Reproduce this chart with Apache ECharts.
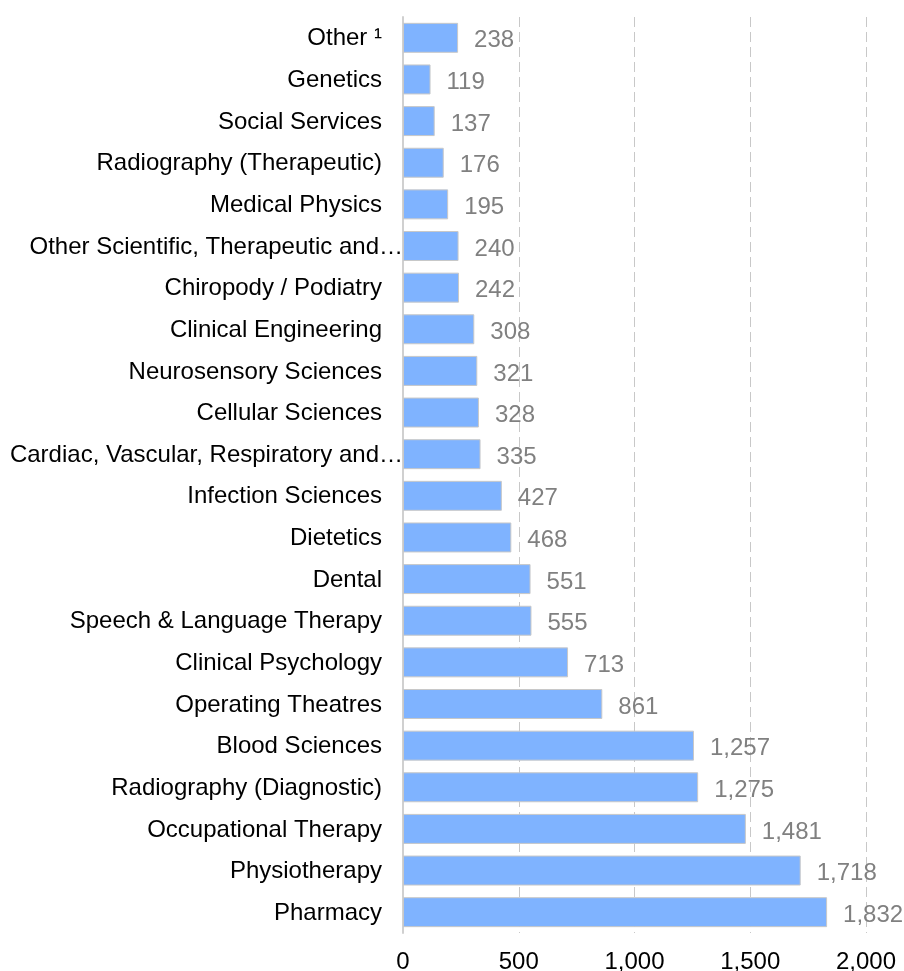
<!DOCTYPE html>
<html>
<head>
<meta charset="utf-8">
<script src="https://cdn.jsdelivr.net/npm/echarts@6/dist/echarts.min.js"></script>
<style>
html,body{margin:0;padding:0;background:#fff;}
#chart{width:904px;height:971px;}
</style>
</head>
<body>
<div id="chart"></div>
<script>
const categories = [
  "Other ¹",
  "Genetics",
  "Social Services",
  "Radiography (Therapeutic)",
  "Medical Physics",
  "Other Scientific, Therapeutic and…",
  "Chiropody / Podiatry",
  "Clinical Engineering",
  "Neurosensory Sciences",
  "Cellular Sciences",
  "Cardiac, Vascular, Respiratory and…",
  "Infection Sciences",
  "Dietetics",
  "Dental",
  "Speech & Language Therapy",
  "Clinical Psychology",
  "Operating Theatres",
  "Blood Sciences",
  "Radiography (Diagnostic)",
  "Occupational Therapy",
  "Physiotherapy",
  "Pharmacy"
];
const values = [238, 119, 137, 176, 195, 240, 242, 308, 321, 328, 335, 427, 468, 551, 555, 713, 861, 1257, 1275, 1481, 1718, 1832];
const xTicks = [0, 500, 1000, 1500, 2000];

const FONT = "'Liberation Sans', Arial, sans-serif";
const fmt = v => Number(v).toLocaleString('en-US');

const chart = echarts.init(document.getElementById('chart'), null, {renderer: 'canvas'});
chart.setOption({
  animation: false,
  backgroundColor: '#ffffff',
  grid: {left: 403, right: 38, top: 17, bottom: 38, containLabel: false, outerBoundsMode: 'none'},
  xAxis: {
    type: 'value',
    min: xTicks[0],
    max: xTicks[xTicks.length - 1],
    interval: 500,
    axisLine: {show: false},
    axisTick: {show: false},
    splitLine: {show: true, lineStyle: {color: '#c8c8c8', width: 1, type: [10, 5]}},
    axisLabel: {
      color: '#000000', fontSize: 24, fontFamily: FONT, margin: 17,
      formatter: v => fmt(v)
    }
  },
  yAxis: {
    type: 'category',
    data: categories,
    inverse: true,
    axisLine: {show: true, lineStyle: {color: '#d0d0d0', width: 2}},
    axisTick: {show: false},
    splitLine: {show: false},
    axisLabel: {
      margin: 0,
      interval: 0,
      color: '#000000', fontSize: 24, fontFamily: FONT,
      formatter: v => v.endsWith('…') ? '{t|' + v + '}' : '{n|' + v + '}',
      rich: {
        n: {color: '#000000', fontSize: 24, fontFamily: FONT, padding: [2, 21, 0, 0]},
        t: {color: '#000000', fontSize: 24, fontFamily: FONT, padding: [2, 0, 0, 0]}
      }
    }
  },
  series: [{
    type: 'bar',
    data: values,
    barWidth: '72%',
    itemStyle: {color: '#7fb3ff', borderColor: '#c8c8c8', borderWidth: 1},
    label: {
      show: true, position: 'right', distance: 16,
      color: '#808080', fontSize: 24, fontFamily: FONT,
      offset: [0, 3],
      formatter: p => fmt(p.value)
    }
  }]
});
</script>
</body>
</html>
